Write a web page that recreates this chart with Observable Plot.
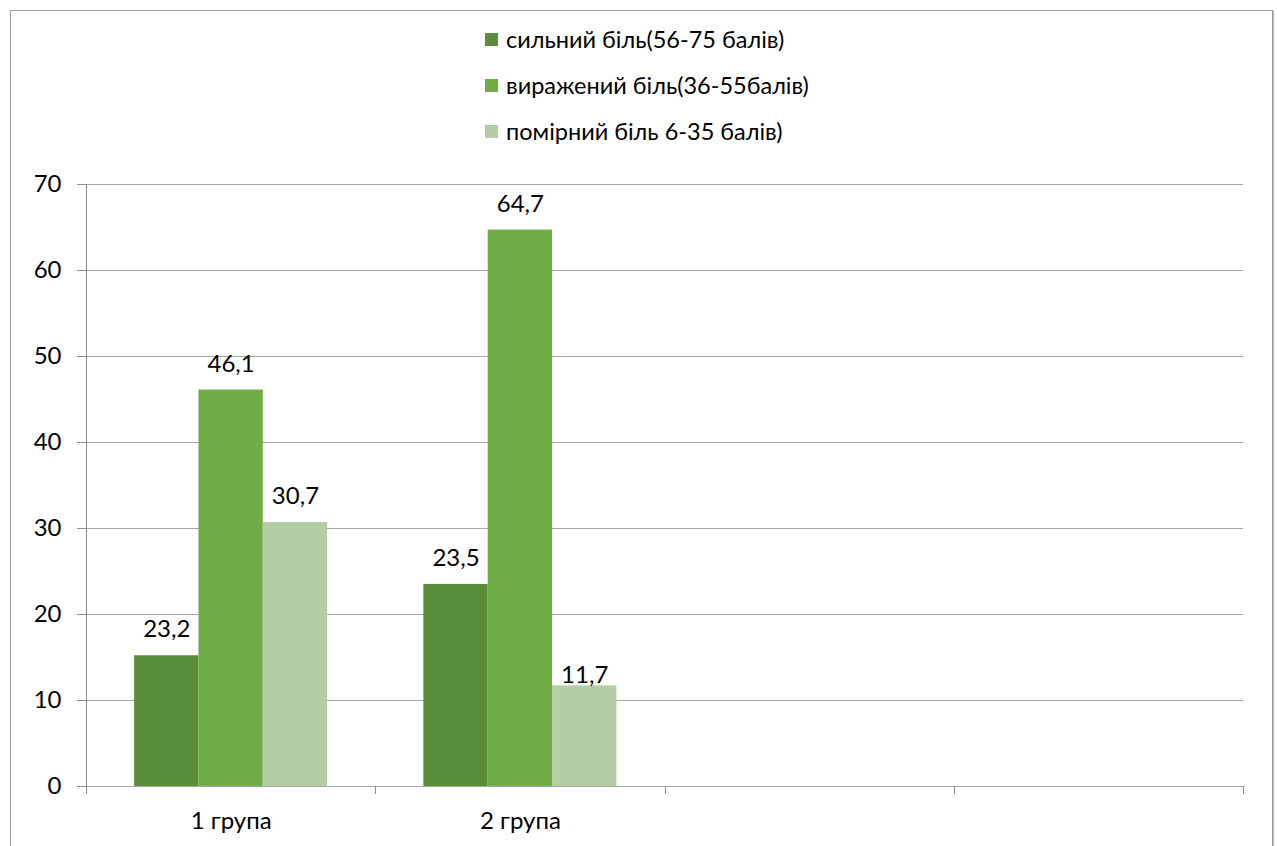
<!DOCTYPE html>
<html>
<head>
<meta charset="utf-8">
<script src="https://cdn.jsdelivr.net/npm/d3@7"></script>
<script src="https://cdn.jsdelivr.net/npm/@observablehq/plot@0.6"></script>
<style>
  html, body { margin: 0; padding: 0; background: #fff; }
  #wrap { position: relative; width: 1277px; height: 846px; overflow: hidden; font-family: Lato, "Noto Sans", sans-serif; }
  #border { position: absolute; left: 10px; top: 10px; width: 1261px; height: 900px; border: 1px solid #9a9a9a; box-shadow: 1px 1px 1px #c0c0c0; }
  #legend { position: absolute; left: 0; top: 0; width: 1277px; height: 150px; }
  .item { position: absolute; left: 485px; height: 26px; display: flex; align-items: center; font-size: 23.5px; color: #000; white-space: nowrap; }
  .sw { width: 13px; height: 13px; margin-right: 8px; flex: none; }
  #chart { position: absolute; left: 0; top: 150px; }
</style>
</head>
<body>
<div id="wrap">
  <div id="border"></div>
  <div id="legend"></div>
  <div id="chart"></div>
</div>
<script>
const categories = ["1 група", "2 група", "", " "];
const series = ["сильний біль(56-75 балів)", "виражений біль(36-55балів)", "помірний біль 6-35 балів)"];
const severe = [15.2, 23.5];
const marked = [46.1, 64.7];
const moderate = [30.7, 11.7];
const severeLabels = ["23,2", "23,5"];
const markedLabels = ["46,1", "64,7"];
const moderateLabels = ["30,7", "11,7"];
const colors = ["#5B8E3A", "#70AD47", "#B4CDA5"];
const yTicks = [0, 10, 20, 30, 40, 50, 60, 70];

const seriesValues = [severe, marked, moderate];
const seriesLabels = [severeLabels, markedLabels, moderateLabels];
const rows = [];
series.forEach((s, i) => {
  seriesValues[i].forEach((v, j) => {
    rows.push({series: s, si: i, group: categories[j], value: v, label: seriesLabels[i][j]});
  });
});

// legend
const legend = document.getElementById("legend");
const legendTops = [26, 72, 118];
series.forEach((s, i) => {
  const it = document.createElement("div");
  it.className = "item";
  it.style.top = legendTops[i] + "px";
  const sw = document.createElement("div");
  sw.className = "sw";
  sw.style.background = colors[i];
  it.appendChild(sw);
  it.appendChild(document.createTextNode(s));
  legend.appendChild(it);
});

const W = 1277, H = 696;
const mL = 86, mR = 34, mT = 34, mB = 60;
const band = (W - mL - mR) / categories.length;
const barW = 64.35;
const sidePad = (band - barW * series.length) / 2;

const barMarks = series.map((s, i) =>
  Plot.barY(rows.filter(d => d.si === i), {
    x: "group", y: "value", fill: colors[i],
    insetLeft: sidePad + i * barW,
    insetRight: band - sidePad - (i + 1) * barW
  })
);

const isLow = d => d.si === 2 && d.group === categories[1];
const textMarks = series.map((s, i) => [
  Plot.text(rows.filter(d => d.si === i && !isLow(d)), {
    x: "group", y: "value", text: "label", dx: (i - 1) * barW, dy: -26, fill: "#000"
  }),
  Plot.text(rows.filter(d => d.si === i && isLow(d)), {
    x: "group", y: "value", text: "label", dx: (i - 1) * barW, dy: -11, fill: "#000"
  })
]);

const axisDecor = (index, scales, values, dims) => {
  const g = d3.create("svg:g");
  const x0 = dims.marginLeft, x1 = dims.width - dims.marginRight;
  const yb = dims.height - dims.marginBottom, yt = dims.marginTop;
  g.append("line").attr("x1", x0 + 0.5).attr("x2", x0 + 0.5).attr("y1", yt).attr("y2", yb)
    .attr("stroke", "#8c8c8c").attr("stroke-width", 1);
  const xs = categories.map((c, i) => {
    const v = scales.x ? scales.x(c) : undefined;
    return v == null || isNaN(v) ? x0 + i * band : v;
  }).concat([x1]);
  xs.forEach(x => {
    g.append("line").attr("x1", Math.round(x) + 0.5).attr("x2", Math.round(x) + 0.5)
      .attr("y1", yb).attr("y2", yb + 8).attr("stroke", "#8c8c8c").attr("stroke-width", 1);
  });
  return g.node();
};

const plot = Plot.plot({
  width: W, height: H,
  marginLeft: mL, marginRight: mR, marginTop: mT, marginBottom: mB,
  style: {fontFamily: "Lato, 'Noto Sans', sans-serif", fontSize: "24px", color: "#000", background: "transparent", overflow: "visible"},
  x: {type: "band", domain: categories, padding: 0, round: false, axis: null, label: null},
  y: {domain: [0, 70], axis: null, label: null},
  marks: [
    Plot.ruleY(yTicks, {stroke: "#a6a6a6", strokeWidth: 1}),
    ...barMarks,
    ...textMarks.flat(),
    Plot.axisY(yTicks, {tickSize: 9, tickPadding: 16, stroke: "#8c8c8c", fill: "#000", label: null, tickFormat: d => String(d)}),
    Plot.axisX({tickSize: 0, tickPadding: 25, fill: "#000", label: null}),
    axisDecor
  ]
});
document.getElementById("chart").appendChild(plot);
</script>
</body>
</html>
